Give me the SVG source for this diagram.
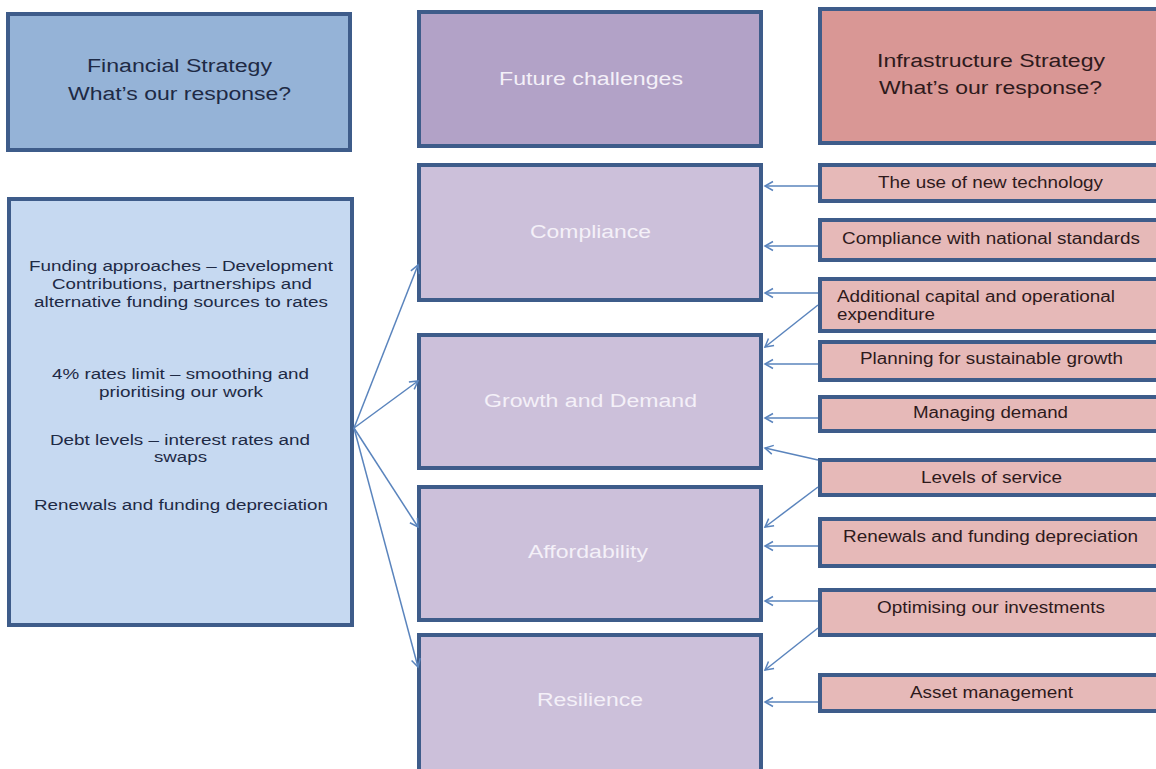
<svg xmlns="http://www.w3.org/2000/svg" width="1156" height="769" viewBox="0 0 1156 769">
<style>
text{font-family:"Liberation Sans",Arial,sans-serif;}
.box{stroke:#3e5c8a;stroke-width:4;}
.fin{fill:#95b3d7;}
.finl{fill:#c6d9f1;}
.fut{fill:#b2a2c7;}
.ch{fill:#ccc0da;}
.inf{fill:#d99795;}
.ir{fill:#e6b9b8;}
.hd{font-size:18px;}
.tb{fill:#1e2a45;}
.tr{fill:#2e1a1c;}
.tw{fill:#f4f0f8;font-size:18px;}
.lt{font-size:15.5px;fill:#1e2a45;}
.rt{font-size:16px;fill:#2e1a1c;}
.con line{stroke:#5a84bd;stroke-width:1.5;fill:none;}
</style>
<defs>
<marker id="ah" markerWidth="12" markerHeight="12" refX="0" refY="0" viewBox="-10 -6 12 12" orient="auto" markerUnits="userSpaceOnUse">
<path d="M-8,-4.5 L0,0 L-8,4.5" fill="none" stroke="#5a84bd" stroke-width="1.5"/>
</marker>
</defs>
<rect width="1156" height="769" fill="#ffffff"/>

<g id="financial-strategy">
<rect class="box fin" x="8" y="14" width="342" height="136"/>
<text class="hd tb" x="87" y="72" textLength="185" lengthAdjust="spacingAndGlyphs">Financial Strategy</text>
<text class="hd tb" x="68" y="100" textLength="223" lengthAdjust="spacingAndGlyphs">What’s our response?</text>
</g>

<g id="financial-items">
<rect class="box finl" x="9" y="199" width="343" height="426"/>
<text class="lt" x="29" y="271" textLength="304" lengthAdjust="spacingAndGlyphs">Funding approaches – Development</text>
<text class="lt" x="52" y="289" textLength="260" lengthAdjust="spacingAndGlyphs">Contributions, partnerships and</text>
<text class="lt" x="34" y="307" textLength="294" lengthAdjust="spacingAndGlyphs">alternative funding sources to rates</text>
<text class="lt" x="52" y="379" textLength="257" lengthAdjust="spacingAndGlyphs">4% rates limit – smoothing and</text>
<text class="lt" x="99" y="397" textLength="164" lengthAdjust="spacingAndGlyphs">prioritising our work</text>
<text class="lt" x="50" y="445" textLength="260" lengthAdjust="spacingAndGlyphs">Debt levels – interest rates and</text>
<text class="lt" x="154" y="462" textLength="53" lengthAdjust="spacingAndGlyphs">swaps</text>
<text class="lt" x="34" y="510" textLength="294" lengthAdjust="spacingAndGlyphs">Renewals and funding depreciation</text>
</g>

<g id="future-challenges">
<rect class="box fut" x="419" y="12" width="342" height="134"/>
<text class="tw" x="499" y="85" textLength="184" lengthAdjust="spacingAndGlyphs">Future challenges</text>
</g>
<g id="compliance">
<rect class="box ch" x="419" y="165" width="342" height="135"/>
<text class="tw" x="530" y="238" textLength="121" lengthAdjust="spacingAndGlyphs">Compliance</text>
</g>
<g id="growth-demand">
<rect class="box ch" x="419" y="335" width="342" height="133"/>
<text class="tw" x="484" y="407" textLength="213" lengthAdjust="spacingAndGlyphs">Growth and Demand</text>
</g>
<g id="affordability">
<rect class="box ch" x="419" y="487" width="342" height="133"/>
<text class="tw" x="528" y="558" textLength="120" lengthAdjust="spacingAndGlyphs">Affordability</text>
</g>
<g id="resilience">
<rect class="box ch" x="419" y="635" width="342" height="140"/>
<text class="tw" x="537" y="706" textLength="106" lengthAdjust="spacingAndGlyphs">Resilience</text>
</g>

<g id="infrastructure-strategy">
<rect class="box inf" x="820" y="9" width="345" height="134"/>
<text class="hd tr" x="877" y="67" textLength="228" lengthAdjust="spacingAndGlyphs">Infrastructure Strategy</text>
<text class="hd tr" x="879" y="94" textLength="223" lengthAdjust="spacingAndGlyphs">What’s our response?</text>
</g>

<g id="new-technology">
<rect class="box ir" x="820" y="165" width="345" height="36"/>
<text class="rt" x="878" y="188" textLength="225" lengthAdjust="spacingAndGlyphs">The use of new technology</text>
</g>
<g id="national-standards">
<rect class="box ir" x="820" y="220" width="345" height="40"/>
<text class="rt" x="842" y="244" textLength="298" lengthAdjust="spacingAndGlyphs">Compliance with national standards</text>
</g>
<g id="additional-capital">
<rect class="box ir" x="820" y="279" width="345" height="52"/>
<text class="rt" x="837" y="302" textLength="278" lengthAdjust="spacingAndGlyphs">Additional capital and operational</text>
<text class="rt" x="837" y="320" textLength="98" lengthAdjust="spacingAndGlyphs">expenditure</text>
</g>
<g id="sustainable-growth">
<rect class="box ir" x="820" y="342" width="345" height="38"/>
<text class="rt" x="860" y="364" textLength="263" lengthAdjust="spacingAndGlyphs">Planning for sustainable growth</text>
</g>
<g id="managing-demand">
<rect class="box ir" x="820" y="397" width="345" height="34"/>
<text class="rt" x="913" y="418" textLength="155" lengthAdjust="spacingAndGlyphs">Managing demand</text>
</g>
<g id="levels-of-service">
<rect class="box ir" x="820" y="460" width="345" height="35"/>
<text class="rt" x="921" y="483" textLength="141" lengthAdjust="spacingAndGlyphs">Levels of service</text>
</g>
<g id="renewals">
<rect class="box ir" x="820" y="519" width="345" height="47"/>
<text class="rt" x="843" y="542" textLength="295" lengthAdjust="spacingAndGlyphs">Renewals and funding depreciation</text>
</g>
<g id="optimising">
<rect class="box ir" x="820" y="590" width="345" height="45"/>
<text class="rt" x="877" y="613" textLength="228" lengthAdjust="spacingAndGlyphs">Optimising our investments</text>
</g>
<g id="asset-management">
<rect class="box ir" x="820" y="675" width="345" height="36"/>
<text class="rt" x="910" y="698" textLength="163" lengthAdjust="spacingAndGlyphs">Asset management</text>
</g>

<g id="connectors" class="con">
<line x1="354" y1="428" x2="418" y2="265" marker-end="url(#ah)"/>
<line x1="354" y1="428" x2="418" y2="381" marker-end="url(#ah)"/>
<line x1="354" y1="428" x2="418" y2="527" marker-end="url(#ah)"/>
<line x1="354" y1="428" x2="418" y2="667" marker-end="url(#ah)"/>
<line x1="818" y1="186" x2="765" y2="186" marker-end="url(#ah)"/>
<line x1="818" y1="246" x2="765" y2="246" marker-end="url(#ah)"/>
<line x1="818" y1="293" x2="765" y2="293" marker-end="url(#ah)"/>
<line x1="818" y1="305" x2="765" y2="347" marker-end="url(#ah)"/>
<line x1="818" y1="364" x2="765" y2="364" marker-end="url(#ah)"/>
<line x1="818" y1="418" x2="765" y2="418" marker-end="url(#ah)"/>
<line x1="818" y1="460" x2="765" y2="448" marker-end="url(#ah)"/>
<line x1="818" y1="487" x2="765" y2="527" marker-end="url(#ah)"/>
<line x1="818" y1="546" x2="765" y2="546" marker-end="url(#ah)"/>
<line x1="818" y1="601" x2="765" y2="601" marker-end="url(#ah)"/>
<line x1="818" y1="628" x2="765" y2="670" marker-end="url(#ah)"/>
<line x1="818" y1="702" x2="765" y2="702" marker-end="url(#ah)"/>
</g>
</svg>
